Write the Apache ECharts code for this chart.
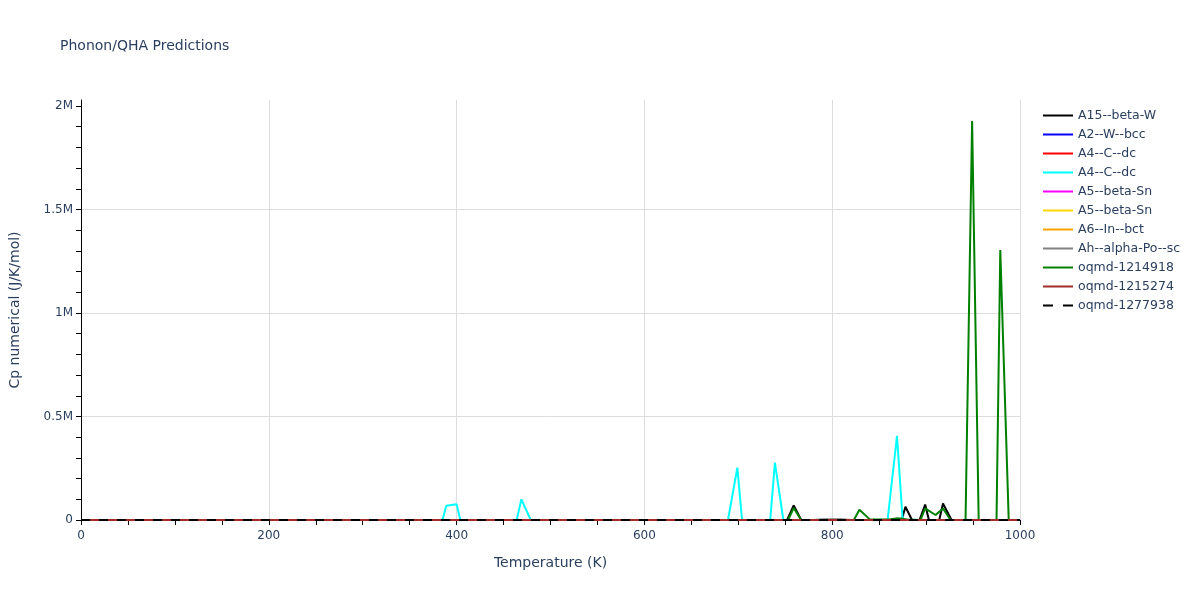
<!DOCTYPE html>
<html>
<head>
<meta charset="utf-8">
<script src="https://cdn.jsdelivr.net/npm/echarts@6/dist/echarts.min.js"></script>
<style>html,body{margin:0;padding:0;background:#fff}#c{width:1200px;height:600px}</style>
</head>
<body>
<div id="c"></div>
<script>
// ---- data ----
var seriesNames = ['A15--beta-W','A2--W--bcc','A4--C--dc','A4--C--dc','A5--beta-Sn','A5--beta-Sn','A6--In--bct','Ah--alpha-Po--sc','oqmd-1214918','oqmd-1215274','oqmd-1277938'];
var seriesColors = ['#000000','#0000ff','#ff0000','#00ffff','#ff00ff','#ffd700','#ffa500','#808080','#008000','#a52a2a','#000000'];

var a15T  = [0, 752, 759, 767, 874, 878, 885, 893, 899, 903, 914, 918, 927, 1000];
var a15Cp = [0, 0, 70000, 0, 0, 64000, 0, 0, 75000, 0, 0, 80000, 0, 0];

var flatT  = [0, 1000];
var flatCp = [0, 0];

var cyanT  = [0, 385, 389, 400, 404, 464, 469, 479, 689, 699, 704, 734, 739, 748, 859, 869, 875, 1000];
var cyanCp = [0, 0, 69000, 76000, 0, 0, 100000, 0, 0, 253000, 0, 0, 277000, 0, 0, 407000, 0, 0];

var grayT  = [0, 780, 790, 810, 820, 1000];
var grayCp = [0, 0, 4000, 4000, 0, 0];

var greenT  = [0, 753, 759, 767, 823, 829, 840, 860, 870, 880, 894, 899, 910, 918, 926, 942, 949, 956, 975, 979, 988, 1000];
var greenCp = [0, 0, 58000, 0, 0, 50000, 3000, 3000, 8000, 3000, 0, 56000, 24000, 56000, 0, 0, 1928000, 0, 0, 1304000, 0, 0];

var xTickLabels = ['0','200','400','600','800','1000'];
var yMajorTicks = [0, 500000, 1000000, 1500000, 2000000];
var yTickLabels = ['0','0.5M','1M','1.5M','2M'];
var yMinorTicks = [0,100000,200000,300000,400000,500000,600000,700000,800000,900000,1000000,1100000,1200000,1300000,1400000,1500000,1600000,1700000,1800000,1900000,2000000];

function pairs(t, v){ return t.map(function(x,i){ return [x, v[i]]; }); }
var seriesData = [
  pairs(a15T, a15Cp), pairs(flatT, flatCp), pairs(flatT, flatCp), pairs(cyanT, cyanCp),
  pairs(flatT, flatCp), pairs(flatT, flatCp), pairs(flatT, flatCp), pairs(grayT, grayCp),
  pairs(greenT, greenCp), pairs(flatT, flatCp), pairs(flatT, flatCp)
];

var FONT = 'DejaVu Sans';
var TXT = '#2a3f5f';
var SOLID_ICON = 'path://M0,0L30,0L30,2L0,2Z';
var DASH_ICON = 'path://M0,0L9,0L9,2L0,2Z M18,0L27,0L27,2L18,2Z';

var series = seriesNames.map(function(n, i){
  return {
    name: n + '#' + i,
    type: 'line',
    yAxisIndex: 0,
    data: seriesData[i],
    symbol: 'none',
    showSymbol: false,
    animation: false,
    lineStyle: { color: seriesColors[i], width: 2, type: i === 10 ? [9, 9] : 'solid' },
    itemStyle: { color: seriesColors[i] },
    z: 2 + i * 0.01
  };
});

var chart = echarts.init(document.getElementById('c'), null, {renderer: 'canvas'});
chart.setOption({
  animation: false,
  backgroundColor: '#ffffff',
  title: {
    text: 'Phonon/QHA Predictions',
    left: 55, top: 34,
    textStyle: { fontFamily: FONT, fontSize: 14, fontWeight: 'normal', color: TXT }
  },
  legend: {
    orient: 'vertical',
    left: 1038, top: 104,
    itemWidth: 30, itemHeight: 14, itemGap: 6,
    symbolKeepAspect: true,
    textStyle: { fontFamily: FONT, fontSize: 12.5, color: TXT },
    formatter: function(name){ return name.replace(/#\d+$/, ''); },
    data: series.map(function(s, i){
      return { name: s.name, icon: i === 10 ? DASH_ICON : SOLID_ICON, itemStyle: { color: seriesColors[i] } };
    })
  },
  grid: { left: 80, right: 180, top: 100, bottom: 80, containLabel: false },
  xAxis: {
    type: 'value',
    min: 0, max: 1000, interval: 200,
    name: 'Temperature (K)',
    nameLocation: 'middle', nameGap: 36,
    nameTextStyle: { fontFamily: FONT, fontSize: 14, color: TXT },
    axisLine: { show: true, onZero: false, lineStyle: { color: '#000000', width: 1 } },
    axisTick: { show: true, length: 5, lineStyle: { color: '#000000' } },
    minorTick: { show: true, splitNumber: 4, length: 5, lineStyle: { color: '#000000' } },
    axisLabel: { fontFamily: FONT, fontSize: 12, color: TXT, margin: 10,
      formatter: function(v){ var k = v / 200; return xTickLabels[k] !== undefined && v % 200 === 0 ? xTickLabels[k] : ''; } },
    splitLine: { show: true, showMinLine: false, lineStyle: { color: '#dddddd', width: 1 } }
  },
  yAxis: [{
    type: 'value',
    min: 0, max: 2029000, interval: 500000,
    name: 'Cp numerical (J/K/mol)',
    nameLocation: 'middle', nameGap: 59,
    nameTextStyle: { fontFamily: FONT, fontSize: 14, color: TXT },
    axisLine: { show: true, onZero: false, lineStyle: { color: '#000000', width: 1 } },
    axisTick: { show: true, length: 5, customValues: yMajorTicks, lineStyle: { color: '#000000' } },
    minorTick: { show: false },
    axisLabel: { fontFamily: FONT, fontSize: 12, color: TXT, margin: 8, customValues: yMajorTicks,
      formatter: function(v){ var k = yMajorTicks.indexOf(v); return k >= 0 ? yTickLabels[k] : ''; } },
    splitLine: { show: true, showMinLine: false, showMaxLine: false, lineStyle: { color: '#dddddd', width: 1 } }
  }, {
    type: 'value',
    position: 'left',
    min: 0, max: 2029000, interval: 500000,
    axisLine: { show: false },
    axisTick: { show: true, length: 5, customValues: yMinorTicks, lineStyle: { color: '#000000' } },
    axisLabel: { show: false },
    splitLine: { show: false }
  }],
  series: series
});
</script>
</body>
</html>
